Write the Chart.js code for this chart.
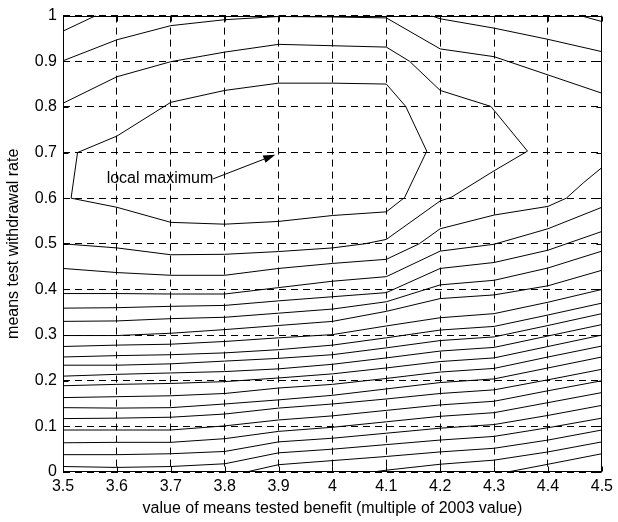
<!DOCTYPE html>
<html>
<head>
<meta charset="utf-8">
<script src="https://cdn.jsdelivr.net/npm/chart.js@4.4.1/dist/chart.umd.min.js"></script>
<style>
  html, body { margin: 0; padding: 0; background: #fff; }
</style>
</head>
<body>
<canvas id="contourChart" width="618" height="522"></canvas>
<script>
// axis ticks
const tickX = [3.5, 3.6, 3.7, 3.8, 3.9, 4.0, 4.1, 4.2, 4.3, 4.4, 4.5];
const tickY = [0, 0.1, 0.2, 0.3, 0.4, 0.5, 0.6, 0.7, 0.8, 0.9, 1];

// benefit values where the full-width contours were read
const benefitX = [3.5, 3.6, 3.7, 3.8, 3.9, 4.0, 4.1, 4.2, 4.3, 4.4, 4.5];

// full-width contour levels, withdrawal rate at each benefitX
const row00 = [0.012, 0.010, 0.012, 0.018, 0.042, 0.050, 0.060, 0.070, 0.078, 0.097, 0.118];
const row01 = [0.038, 0.038, 0.040, 0.045, 0.066, 0.074, 0.085, 0.096, 0.104, 0.124, 0.146];
const row02 = [0.064, 0.065, 0.065, 0.073, 0.089, 0.098, 0.110, 0.122, 0.130, 0.152, 0.174];
const row03 = [0.092, 0.092, 0.092, 0.101, 0.114, 0.123, 0.135, 0.147, 0.155, 0.178, 0.200];
const row04 = [0.117, 0.118, 0.120, 0.127, 0.140, 0.149, 0.160, 0.172, 0.180, 0.202, 0.225];
const row05 = [0.141, 0.140, 0.141, 0.149, 0.158, 0.168, 0.182, 0.196, 0.204, 0.228, 0.252];
const row06 = [0.163, 0.165, 0.167, 0.172, 0.184, 0.192, 0.205, 0.219, 0.227, 0.252, 0.276];
const row07 = [0.189, 0.192, 0.194, 0.198, 0.206, 0.215, 0.228, 0.242, 0.250, 0.275, 0.300];
const row08 = [0.210, 0.214, 0.217, 0.220, 0.226, 0.236, 0.250, 0.265, 0.273, 0.298, 0.323];
const row09 = [0.234, 0.234, 0.237, 0.243, 0.249, 0.257, 0.272, 0.288, 0.296, 0.321, 0.347];
const row10 = [0.252, 0.255, 0.257, 0.261, 0.268, 0.278, 0.294, 0.311, 0.319, 0.344, 0.370];
const row11 = [0.275, 0.278, 0.280, 0.286, 0.294, 0.301, 0.320, 0.338, 0.347, 0.372, 0.400];
const row12 = [0.299, 0.299, 0.304, 0.312, 0.321, 0.330, 0.352, 0.380, 0.388, 0.408, 0.442];
const row13 = [0.330, 0.331, 0.336, 0.339, 0.348, 0.357, 0.373, 0.410, 0.420, 0.447, 0.484];
const row14 = [0.359, 0.360, 0.363, 0.365, 0.375, 0.384, 0.393, 0.446, 0.459, 0.486, 0.527];
const row15 = [0.391, 0.391, 0.390, 0.390, 0.404, 0.418, 0.428, 0.484, 0.499, 0.533, 0.580];

// irregular contours as [benefit, rate] vertices
const rise16 = [[3.5, 0.446], [3.6, 0.437], [3.7, 0.431], [3.8, 0.431], [3.9, 0.446], [4.0, 0.457],
  [4.1, 0.466], [4.161, 0.5], [4.2, 0.533], [4.3, 0.563], [4.4, 0.582], [4.434, 0.6], [4.466, 0.634], [4.5, 0.667]];
const fromBottom1 = [[3.84, 0], [3.9, 0.016], [4.0, 0.025], [4.1, 0.034], [4.2, 0.044], [4.3, 0.052], [4.4, 0.070], [4.5, 0.092]];
const fromBottom2 = [[4.075, 0], [4.1, 0.004], [4.2, 0.017], [4.3, 0.026], [4.4, 0.044], [4.5, 0.066]];
const fromBottom3 = [[4.325, 0], [4.4, 0.017], [4.5, 0.040]];
const outerLoop = [[3.5, 0.808], [3.6, 0.866], [3.7, 0.899], [3.8, 0.920], [3.9, 0.937], [4.0, 0.934], [4.1, 0.931],
  [4.143, 0.9], [4.2, 0.836], [4.294, 0.801], [4.362, 0.703], [4.3, 0.66], [4.22, 0.6015], [4.2, 0.594],
  [4.1, 0.5096], [4.06, 0.5], [4.0, 0.491], [3.9, 0.483], [3.8, 0.477], [3.7, 0.476], [3.6, 0.491], [3.5, 0.5]];
const innerLoop = [[3.527, 0.70], [3.6, 0.736], [3.7, 0.810], [3.8, 0.836], [3.9, 0.852], [4.0, 0.852], [4.1, 0.850],
  [4.136, 0.801], [4.175, 0.703], [4.134, 0.6015], [4.1, 0.570], [4.0, 0.562], [3.9, 0.549], [3.8, 0.543],
  [3.7, 0.547], [3.6, 0.58], [3.515, 0.6], [3.527, 0.70]];
const top18 = [[3.5, 0.901], [3.6, 0.947], [3.7, 0.978], [3.8, 0.991], [3.9, 0.998], [4.0, 0.997], [4.1, 0.995],
  [4.2, 0.927], [4.3, 0.910], [4.4, 0.870], [4.5, 0.830]];
const top19a = [[3.5, 0.966], [3.561, 1]];
const top19b = [[4.183, 1], [4.2, 0.993], [4.3, 0.9725], [4.4, 0.948], [4.5, 0.921]];
const top20 = [[4.46, 1], [4.5, 0.987]];

// annotation (data coordinates)
const noteText = "local maximum";
const noteAt = [3.581, 0.643];
const arrowFrom = [3.778, 0.642];
const arrowTo = [3.894, 0.695];

const FONT = "'Liberation Sans', Arial, Helvetica, sans-serif";
const fmt = (v) => String(Math.round(v * 10) / 10);

const rows = [row00, row01, row02, row03, row04, row05, row06, row07, row08, row09,
  row10, row11, row12, row13, row14, row15];
const paths = [rise16, fromBottom1, fromBottom2, fromBottom3, outerLoop, innerLoop, top18, top19a, top19b, top20];

function lineSet(points) {
  return {
    data: points,
    showLine: true,
    borderColor: "#000",
    borderWidth: 1,
    pointRadius: 0,
    pointHoverRadius: 0,
    fill: false,
    tension: 0
  };
}

const datasets = rows.map((r) => lineSet(r.map((y, i) => ({ x: benefitX[i], y }))))
  .concat(paths.map((p) => lineSet(p.map(([x, y]) => ({ x, y })))));

// frame, inward ticks and the arrow note
const framePlugin = {
  id: "frame",
  afterDraw(chart) {
    const { ctx, chartArea: a, scales: { x, y } } = chart;
    ctx.save();
    ctx.strokeStyle = "#000";
    ctx.lineWidth = 1;
    ctx.setLineDash([]);
    const L = Math.round(a.left) + 0.5, R = Math.round(a.right) - 0.5;
    const T = Math.round(a.top) + 0.5, B = Math.round(a.bottom) - 0.5;
    ctx.strokeRect(L, T, R - L, B - T);
    const tl = 5;
    ctx.beginPath();
    tickX.forEach((v) => {
      const px = Math.round(x.getPixelForValue(v)) + 0.5;
      ctx.moveTo(px, B); ctx.lineTo(px, B - tl);
      ctx.moveTo(px, T); ctx.lineTo(px, T + tl);
    });
    tickY.forEach((v) => {
      const py = Math.round(y.getPixelForValue(v)) + 0.5;
      ctx.moveTo(L, py); ctx.lineTo(L + tl, py);
      ctx.moveTo(R, py); ctx.lineTo(R - tl, py);
    });
    ctx.stroke();

    // annotation
    ctx.fillStyle = "#000";
    ctx.font = "16px " + FONT;
    ctx.textBaseline = "middle";
    ctx.textAlign = "left";
    ctx.fillText(noteText, x.getPixelForValue(noteAt[0]), y.getPixelForValue(noteAt[1]));
    const x0 = x.getPixelForValue(arrowFrom[0]), y0 = y.getPixelForValue(arrowFrom[1]);
    const x1 = x.getPixelForValue(arrowTo[0]), y1 = y.getPixelForValue(arrowTo[1]);
    const ang = Math.atan2(y1 - y0, x1 - x0);
    const hl = 12, hw = 4;
    ctx.beginPath();
    ctx.moveTo(x0, y0);
    ctx.lineTo(x1 - hl * Math.cos(ang), y1 - hl * Math.sin(ang));
    ctx.stroke();
    ctx.beginPath();
    ctx.moveTo(x1, y1);
    ctx.lineTo(x1 - hl * Math.cos(ang) + hw * Math.sin(ang), y1 - hl * Math.sin(ang) - hw * Math.cos(ang));
    ctx.lineTo(x1 - hl * Math.cos(ang) - hw * Math.sin(ang), y1 - hl * Math.sin(ang) + hw * Math.cos(ang));
    ctx.closePath();
    ctx.fill();
    ctx.restore();
  }
};

const gridStyle = { color: "#000", lineWidth: 1, drawTicks: false };
const borderStyle = { display: false, dash: [7, 5] };

new Chart(document.getElementById("contourChart"), {
  type: "scatter",
  data: { datasets },
  options: {
    responsive: false,
    animation: false,
    events: [],
    layout: { padding: { top: 12, right: 13, left: 0, bottom: 0 } },
    plugins: { legend: { display: false }, tooltip: { enabled: false } },
    scales: {
      x: {
        type: "linear",
        min: 3.5,
        max: 4.5,
        afterBuildTicks: (s) => { s.ticks = tickX.map((v) => ({ value: v })); },
        afterFit: (s) => { s.height = 50; },
        grid: gridStyle,
        border: borderStyle,
        ticks: { color: "#000", font: { family: FONT, size: 16 }, padding: 5, maxRotation: 0, autoSkip: false, callback: fmt },
        title: {
          display: true,
          text: "value of means tested benefit (multiple of 2003 value)",
          color: "#000",
          font: { family: FONT, size: 16 },
          padding: { top: 0, bottom: 4 }
        }
      },
      y: {
        type: "linear",
        min: 0,
        max: 1,
        afterBuildTicks: (s) => { s.ticks = tickY.map((v) => ({ value: v })); },
        afterFit: (s) => { s.width = 63; },
        grid: gridStyle,
        border: borderStyle,
        ticks: { color: "#000", font: { family: FONT, size: 16 }, padding: 6, autoSkip: false, callback: fmt },
        title: {
          display: true,
          text: "means test withdrawal rate",
          color: "#000",
          font: { family: FONT, size: 16 },
          padding: { top: 4, bottom: 0 }
        }
      }
    }
  },
  plugins: [framePlugin]
});
</script>
</body>
</html>
